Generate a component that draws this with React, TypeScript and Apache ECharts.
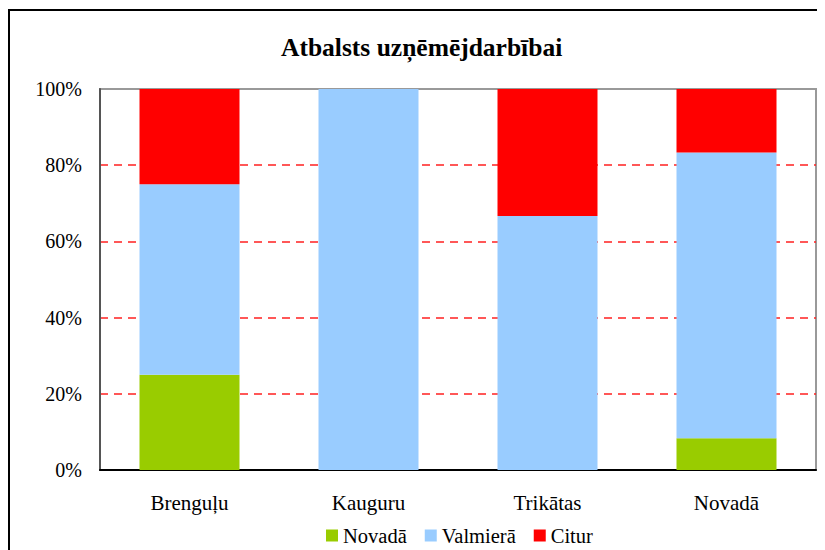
import React, { useEffect, useRef } from "react";
import * as echarts from "echarts";

const categories = ["Brenguļu", "Kauguru", "Trikātas", "Novadā"];
const seriesNames = ["Novadā", "Valmierā", "Citur"];
const novadaValues = [25, 0, 0, 8.33];
const valmieraValues = [50, 100, 66.67, 75];
const citurValues = [25, 0, 33.33, 16.67];
const colors = ["#99cc00", "#99ccff", "#ff0000"];

const FONT = "Liberation Serif";

export default function App() {
  const ref = useRef<HTMLDivElement>(null);
  useEffect(() => {
    if (!ref.current) return;
    const chart = echarts.init(ref.current, undefined, { renderer: "svg" });
    const data = [novadaValues, valmieraValues, citurValues];
    chart.setOption({
      animation: false,
      textStyle: { fontFamily: FONT },
      title: {
        text: "Atbalsts uzņēmējdarbībai",
        left: 268,
        top: 21,
        textStyle: { fontFamily: FONT, fontSize: 25.5, fontWeight: "bold", color: "#000" },
      },
      legend: {
        data: seriesNames,
        top: 512,
        left: 313,
        itemWidth: 12,
        itemHeight: 12,
        itemGap: 18,
        icon: "rect",
        textStyle: { fontFamily: FONT, fontSize: 20.5, color: "#000" },
      },
      grid: {
        left: 92,
        top: 81,
        right: 9,
        bottom: 80,
        show: true,
        borderColor: "#999",
        borderWidth: 2,
        backgroundColor: "#fff",
      },
      xAxis: {
        type: "category",
        data: categories,
        axisLine: { show: true, lineStyle: { color: "#000", width: 2 } },
        axisTick: { show: false },
        axisLabel: { fontFamily: FONT, fontSize: 21, color: "#000", margin: 22 },
      },
      yAxis: {
        type: "value",
        min: 0,
        max: 100,
        interval: 20,
        axisLine: { show: true, lineStyle: { color: "#555", width: 2 } },
        axisTick: { show: false },
        axisLabel: {
          fontFamily: FONT,
          fontSize: 20,
          color: "#000",
          margin: 18,
          formatter: (v: number) => v + "%",
        },
        splitLine: {
          show: true,
          showMinLine: false,
          showMaxLine: false,
          lineStyle: {
            color: "#ff2020",
            type: [8, 6],
            width: 1.5,
          },
        },
      },
      series: seriesNames.map((name, i) => ({
        name,
        type: "bar",
        stack: "total",
        barWidth: 100,
        data: data[i],
        itemStyle: { color: colors[i] },
      })),
    });
    return () => chart.dispose();
  }, []);
  return (
    <div style={{ position: "relative", width: 817, height: 542 }}>
      <div ref={ref} style={{ width: 817, height: 542 }} />
      <div
        style={{
          position: "absolute",
          left: 0,
          top: 1,
          width: 830,
          height: 560,
          border: "2px solid #000",
          boxSizing: "border-box",
          pointerEvents: "none",
        }}
      />
    </div>
  );
}
